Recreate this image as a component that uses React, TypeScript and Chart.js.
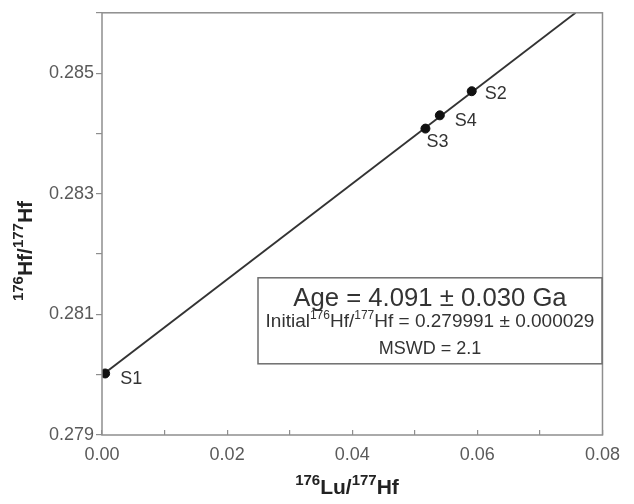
import React, { useEffect, useRef } from 'react';
import { Chart, registerables } from 'chart.js';

Chart.register(...registerables);

// ---- data ----
const sampleLabels = ['S1', 'S2', 'S3', 'S4'];
const luHf = [0.0005, 0.0591, 0.0517, 0.054];
const hfHf = [0.28002, 0.2847, 0.28408, 0.2843];
const isochronX = [0, 0.0757];
const isochronY = [0.279991, 0.286];
const xTickLabels = ['0.00', '0.02', '0.04', '0.06', '0.08'];
const yTickLabels = ['0.279', '0.281', '0.283', '0.285'];
const ageText = 'Age = 4.091 ± 0.030 Ga';
const initialParts = [
  { t: 'Initial', sup: false },
  { t: '176', sup: true },
  { t: 'Hf/', sup: false },
  { t: '177', sup: true },
  { t: 'Hf = 0.279991 ± 0.000029', sup: false },
];
const mswdText = 'MSWD = 2.1';
const xTitleParts = [
  { t: '176', sup: true },
  { t: 'Lu/', sup: false },
  { t: '177', sup: true },
  { t: 'Hf', sup: false },
];
const yTitleParts = [
  { t: '176', sup: true },
  { t: 'Hf/', sup: false },
  { t: '177', sup: true },
  { t: 'Hf', sup: false },
];

// ---- styling (pixel offsets for labels) ----
const labelOffsets: [number, number][] = [
  [15, 6],
  [13, 3],
  [1, 13],
  [15, 6],
];

const FONT = '"Liberation Sans", Arial, Helvetica, sans-serif';

type Part = { t: string; sup: boolean };

function drawRich(
  ctx: CanvasRenderingContext2D,
  parts: Part[],
  cx: number,
  cy: number,
  size: number,
  supSize: number,
  weight: string,
  color: string
) {
  const fnt = (s: number) => `${weight} ${s}px ${FONT}`;
  let w = 0;
  for (const p of parts) {
    ctx.font = fnt(p.sup ? supSize : size);
    w += ctx.measureText(p.t).width;
  }
  let x = cx - w / 2;
  const baseline = cy + (size * 0.716) / 2;
  ctx.fillStyle = color;
  ctx.textAlign = 'left';
  ctx.textBaseline = 'alphabetic';
  for (const p of parts) {
    ctx.font = fnt(p.sup ? supSize : size);
    ctx.fillText(p.t, x, p.sup ? baseline - size * 0.4 : baseline);
    x += ctx.measureText(p.t).width;
  }
}

const overlayPlugin = {
  id: 'overlay',
  afterDatasetsDraw(chart: any) {
    const { ctx, chartArea: ca } = chart;
    ctx.save();
    // frame
    ctx.strokeStyle = '#8e8e8e';
    ctx.lineWidth = 1.5;
    ctx.strokeRect(ca.left, ca.top, ca.right - ca.left, ca.bottom - ca.top);

    // point labels
    const meta = chart.getDatasetMeta(0);
    ctx.font = `18px ${FONT}`;
    ctx.fillStyle = '#333';
    ctx.textAlign = 'left';
    ctx.textBaseline = 'middle';
    meta.data.forEach((el: any, i: number) => {
      const [dx, dy] = labelOffsets[i];
      ctx.fillText(sampleLabels[i], el.x + dx, el.y + dy);
    });

    // result box
    const bx = ca.left + 156;
    const by = ca.top + 265;
    const bw = 344;
    const bh = 86;
    ctx.fillStyle = '#fff';
    ctx.fillRect(bx, by, bw, bh);
    ctx.strokeStyle = '#6e6e6e';
    ctx.lineWidth = 1.5;
    ctx.strokeRect(bx, by, bw, bh);
    const cx = bx + bw / 2;
    ctx.fillStyle = '#333';
    ctx.textAlign = 'center';
    ctx.textBaseline = 'alphabetic';
    ctx.font = `25.7px ${FONT}`;
    ctx.fillText(ageText, cx, by + 10 + 25.7 * 0.716);
    drawRich(ctx, initialParts, cx, by + 42, 19, 12, 'normal', '#333');
    ctx.font = `18px ${FONT}`;
    ctx.fillStyle = '#333';
    ctx.textAlign = 'center';
    ctx.fillText(mswdText, cx, by + 70 + (18 * 0.716) / 2);

    // axis titles
    drawRich(ctx, xTitleParts, 347, 486, 21, 15, 'bold', '#222');
    ctx.translate(24, 251);
    ctx.rotate(-Math.PI / 2);
    drawRich(ctx, yTitleParts, 0, 0, 21, 15, 'bold', '#222');
    ctx.restore();
  },
};

export default function App() {
  const ref = useRef<HTMLCanvasElement | null>(null);
  useEffect(() => {
    if (!ref.current) return;
    const chart = new Chart(ref.current, {
      type: 'scatter',
      data: {
        datasets: [
          {
            label: 'samples',
            data: luHf.map((x, i) => ({ x, y: hfHf[i] })),
            pointRadius: 4.5,
            pointBackgroundColor: '#111',
            pointBorderColor: '#111',
            showLine: false,
          },
          {
            label: 'isochron',
            data: isochronX.map((x, i) => ({ x, y: isochronY[i] })),
            showLine: true,
            borderColor: '#333',
            borderWidth: 1.8,
            pointRadius: 0,
          },
        ],
      },
      options: {
        responsive: false,
        animation: false,
        layout: { padding: { top: 11, right: 20, left: 0, bottom: 0 } },
        plugins: { legend: { display: false }, tooltip: { enabled: false } },
        scales: {
          x: {
            type: 'linear',
            position: 'bottom',
            min: 0,
            max: 0.08,
            afterFit: (s: any) => {
              s.height = 69;
            },
            border: { display: false },
            grid: {
              display: true,
              drawOnChartArea: false,
              drawTicks: true,
              tickLength: -5,
              color: '#8e8e8e',
              lineWidth: 1.2,
            },
            ticks: {
              stepSize: 0.01,
              autoSkip: false,
              maxRotation: 0,
              padding: 14,
              color: '#5a5a5a',
              font: { size: 18, family: FONT },
              callback: (v: any) => {
                const s = Number(v).toFixed(2);
                return xTickLabels.includes(s) ? s : '';
              },
            },
          },
          y: {
            type: 'linear',
            min: 0.279,
            max: 0.286,
            afterFit: (s: any) => {
              s.width = 102;
            },
            border: { display: false },
            grid: {
              display: true,
              drawOnChartArea: false,
              drawTicks: true,
              tickLength: 6,
              color: '#8e8e8e',
              lineWidth: 1.2,
            },
            ticks: {
              stepSize: 0.001,
              autoSkip: false,
              padding: 2,
              color: '#5a5a5a',
              font: { size: 18, family: FONT },
              callback: (v: any) => {
                const s = Number(v).toFixed(3);
                return yTickLabels.includes(s) ? s : '';
              },
            },
          },
        },
      },
      plugins: [overlayPlugin],
    });
    return () => chart.destroy();
  }, []);
  return (
    <div style={{ position: 'absolute', left: 0, top: 0, width: 634, height: 504, background: '#fff' }}>
      <canvas ref={ref} width={634} height={504} />
    </div>
  );
}
